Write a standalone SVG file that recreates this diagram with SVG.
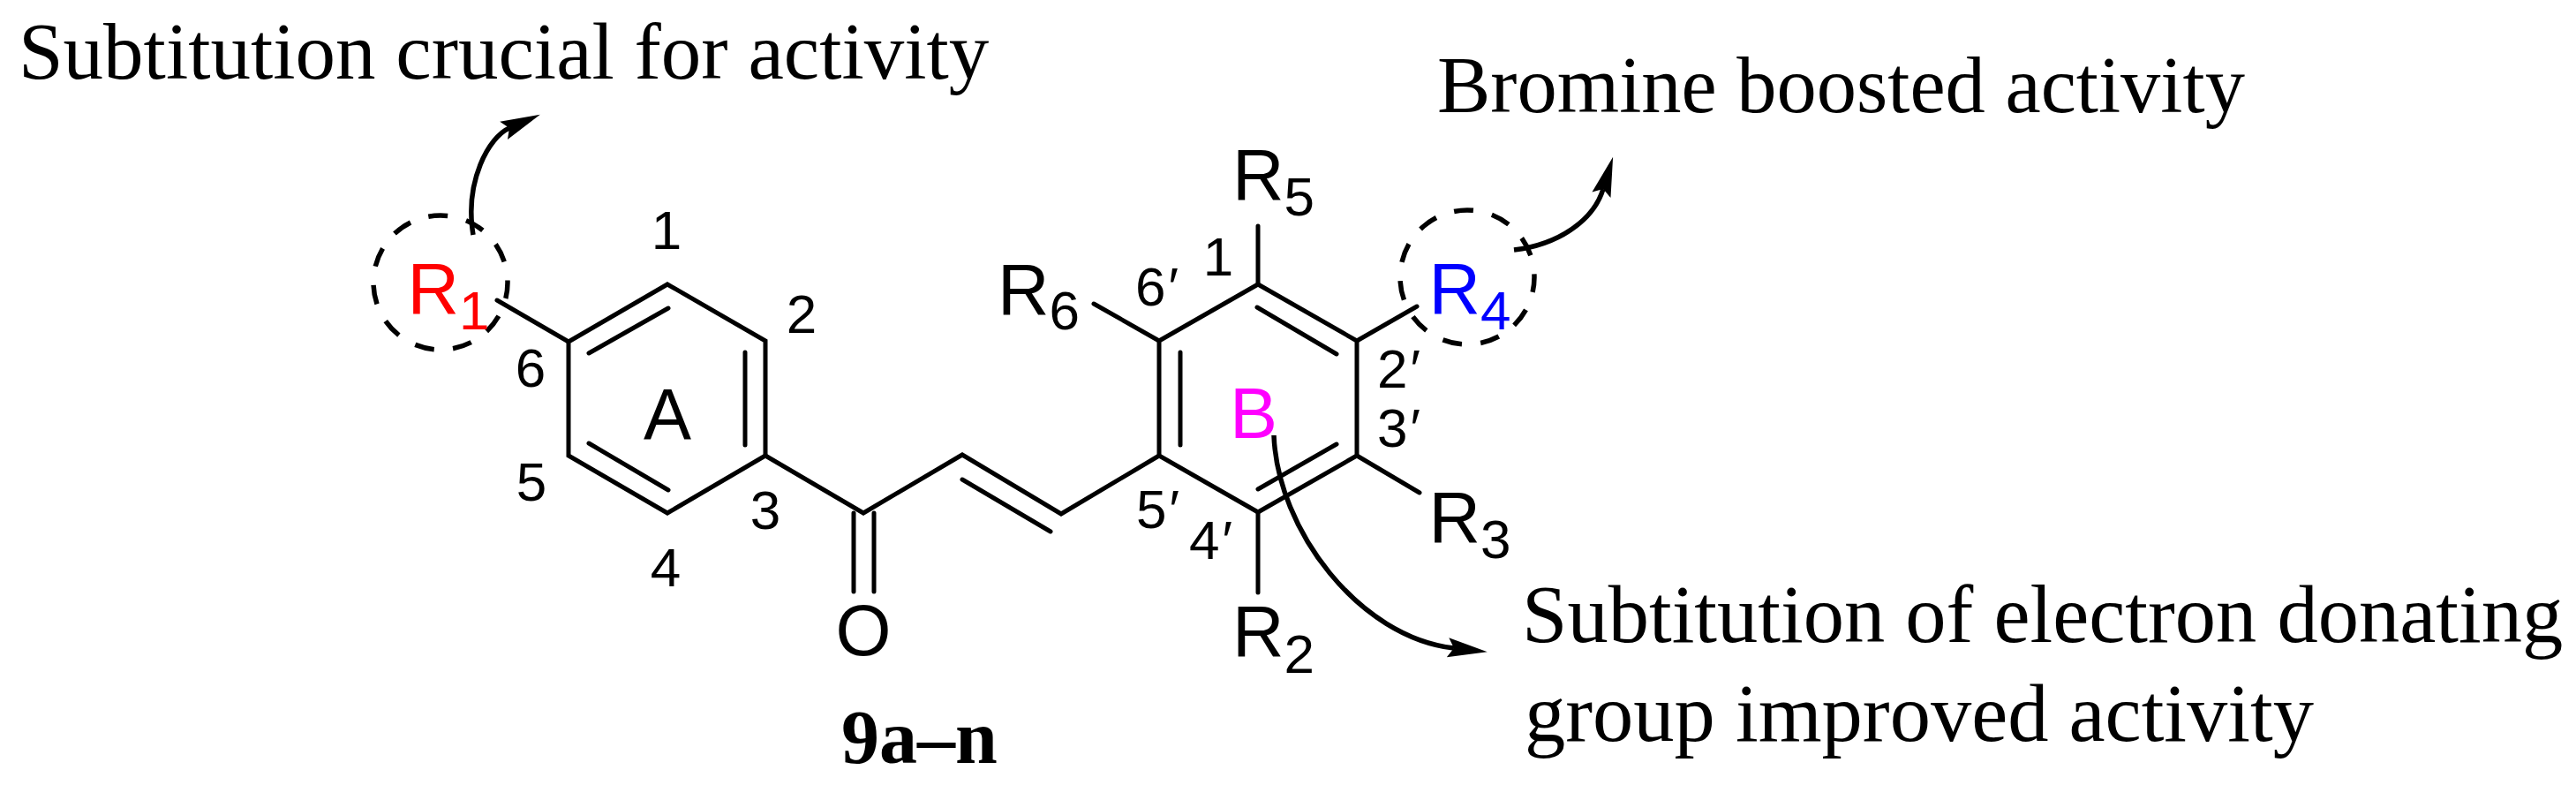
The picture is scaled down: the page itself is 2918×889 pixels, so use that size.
<svg xmlns="http://www.w3.org/2000/svg" width="2918" height="889" viewBox="0 0 2918 889">
<style>
.b{fill:none;stroke:#000;stroke-width:5;stroke-linecap:round;stroke-linejoin:miter}
.d{fill:none;stroke:#000;stroke-width:5.5;stroke-dasharray:22 21.45}
.a{fill:none;stroke:#000;stroke-width:5.5;marker-end:url(#h)}
.s{font-family:"Liberation Sans",Arial,sans-serif;font-size:81px;fill:#000}
.n{font-family:"Liberation Sans",Arial,sans-serif;font-size:62px;fill:#000}
.p{font-style:italic}
.t{font-family:"Liberation Serif","Times New Roman",serif;font-size:91px;fill:#000}
</style>
<defs>
<marker id="h" markerUnits="userSpaceOnUse" viewBox="-10 -15 55 30" refX="0" refY="0" markerWidth="55" markerHeight="30" orient="auto"><path d="M38 0L-7 -11L0 0L-7 11Z" fill="#000"/></marker>
</defs>
<rect width="2918" height="889" fill="#fff"/>
<g id="connectors">
<path class="b" d="M644 387L756 322L867 386V516L756 581L644 516Z"/>
<path class="b" d="M667 400L757 349M844 399V504M667 502L757 555"/>
<path class="b" d="M563 340L644 387"/>
<path class="b" d="M867 516L978 581L1090 515L1202 582L1313 516"/>
<path class="b" d="M967 581V670M990 581V670M1090 543L1190 602"/>
<path class="b" d="M1313 386L1425 322L1537 386V516L1425 580L1313 516Z"/>
<path class="b" d="M1337 399V504M1424 348L1514 401M1425 554L1514 503"/>
<path class="b" d="M1239 344L1313 386M1425 256V322M1537 386L1605 347M1537 516L1608 558M1425 580V671"/>
<circle class="d" style="stroke-dashoffset:3.8" cx="499" cy="320" r="76"/>
<circle class="d" style="stroke-dashoffset:5" cx="1662" cy="314" r="76"/>
<path class="a" d="M536 266C526 205 554 155 577 145"/>
<path class="a" d="M1715 283C1765 277 1805 250 1816 214"/>
<path class="a" d="M1443 493C1447 600 1540 722 1647 734"/>
</g>
<g id="ring-A"><text class="s" x="756" y="497" text-anchor="middle">A</text></g>
<g id="ring-B"><text class="s" x="1393" y="496" style="fill:#f0f">B</text></g>
<g id="R1"><text class="s" x="461.4" y="355" style="fill:#f00">R<tspan class="n" style="fill:#f00" dy="18">1</tspan></text></g>
<g id="R2"><text class="s" x="1396" y="743">R<tspan class="n" dy="19">2</tspan></text></g>
<g id="R3"><text class="s" x="1618.5" y="614">R<tspan class="n" dy="18">3</tspan></text></g>
<g id="R4"><text class="s" x="1618.5" y="355" style="fill:#00f">R<tspan class="n" style="fill:#00f" dy="18">4</tspan></text></g>
<g id="R5"><text class="s" x="1396" y="226">R<tspan class="n" dy="18">5</tspan></text></g>
<g id="R6"><text class="s" x="1130" y="356">R<tspan class="n" dy="17">6</tspan></text></g>
<g id="O"><text class="s" x="978" y="742" text-anchor="middle">O</text></g>
<g id="positions-A">
<text class="n" x="755" y="282" text-anchor="middle">1</text>
<text class="n" x="908" y="377" text-anchor="middle">2</text>
<text class="n" x="867" y="599" text-anchor="middle">3</text>
<text class="n" x="754" y="664" text-anchor="middle">4</text>
<text class="n" x="602" y="567" text-anchor="middle">5</text>
<text class="n" x="601" y="438" text-anchor="middle">6</text>
</g>
<g id="positions-B">
<text class="n" x="1380" y="312" text-anchor="middle">1</text>
<text class="n" x="1560" y="439">2<tspan class="p">′</tspan></text>
<text class="n" x="1560" y="506">3<tspan class="p">′</tspan></text>
<text class="n" x="1347" y="633">4<tspan class="p">′</tspan></text>
<text class="n" x="1287" y="598">5<tspan class="p">′</tspan></text>
<text class="n" x="1286" y="346">6<tspan class="p">′</tspan></text>
</g>
<g id="label-R1"><text class="t" x="21" y="89">Subtitution crucial for activity</text></g>
<g id="label-R4"><text class="t" x="1628" y="127" style="font-size:90.5px">Bromine boosted activity</text></g>
<g id="label-B"><text class="t" x="1724" y="727" style="font-size:92.5px">Subtitution of electron donating</text><text class="t" x="1727" y="839" style="font-size:92.5px">group improved activity</text></g>
<g id="compound"><text x="953" y="864" style="font-family:'Liberation Serif','Times New Roman',serif;font-weight:bold;font-size:86px">9a–n</text></g>
</svg>
